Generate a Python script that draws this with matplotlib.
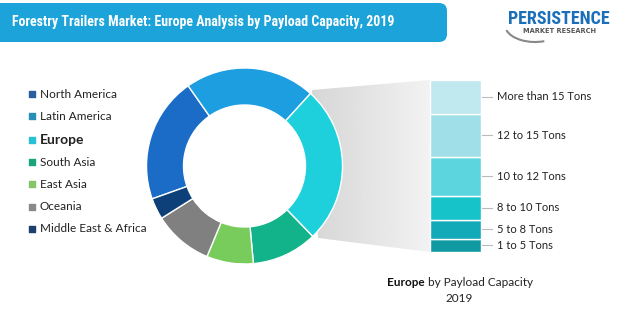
import matplotlib
matplotlib.use("Agg")
import matplotlib.pyplot as plt
import numpy as np
from matplotlib.patches import FancyBboxPatch, Polygon, Arc

# regional shares (legend order)
regions = ['North America', 'Latin America', 'Europe', 'South Asia',
           'East Asia', 'Oceania', 'Middle East & Africa']
region_share = [20.7, 21.5, 26.0, 10.8, 7.7, 9.8, 3.5]
region_colors = ['#1a6cc6', '#1c9ee0', '#1ed0dc', '#12b38a',
                 '#77cc5c', '#808080', '#0d3f78']
legend_colors = ['#2a5e9c', '#2a8fb8', '#28c0d4', '#1aa57c',
                 '#86c46a', '#8a8a8a', '#1d3f6e']

# Europe breakdown by payload capacity (bottom to top)
capacity = ['1 to 5 Tons', '5 to 8 Tons', '8 to 10 Tons',
            '10 to 12 Tons', '12 to 15 Tons', 'More than 15 Tons']
capacity_share = [7.6, 11.0, 14.0, 22.7, 25.0, 19.7]
capacity_colors = ['#0f9aa2', '#12aab8', '#16c3c8', '#5dd5df', '#a0dfe8', '#c0e8ef']

COND = ['Roboto Condensed', 'Barlow Condensed', 'DejaVu Sans']

W, H = 620, 331
fig = plt.figure(figsize=(W / 100, H / 100), dpi=100)
ax = fig.add_axes([0, 0, 1, 1])

# grey connector from the donut to the bar, with a soft gradient
poly = Polygon([(312, H - 90), (430, H - 80), (430, H - 252), (318, H - 238)],
               closed=True, facecolor='none', edgecolor='none')
ax.add_patch(poly)
grad = np.linspace(0.84, 0.95, 256).reshape(1, -1)
im = ax.imshow(grad, cmap='gray', vmin=0, vmax=1, extent=(312, 430, H - 252, H - 80),
               aspect='auto', zorder=1)
im.set_clip_path(poly)

# donut
wedges, _ = ax.pie(region_share, colors=region_colors, startangle=199.6, counterclock=False,
                   radius=98, center=(244.5, H - 166),
                   wedgeprops=dict(width=37, edgecolor='white', linewidth=1.0),
                   frame=True)
for w in wedges:
    w.set_zorder(3)

# stacked bar for Europe
bar_h = 172
bar_bottom = H - 252
for lab, share, col in zip(capacity, capacity_share, capacity_colors):
    h = share / sum(capacity_share) * bar_h
    ax.bar(455.5, h, width=51, bottom=bar_bottom, color=col, edgecolor='white',
           linewidth=1.0, zorder=3)
    yc = bar_bottom + h / 2
    ax.plot([482, 492], [yc, yc], color='#bbbbbb', lw=0.8, zorder=3)
    ax.text(497, yc, lab, ha='left', va='center', fontsize=8, color='#222222',
            family='Lato', zorder=4)
    bar_bottom += h

# legend
legend_y = [94, 116, 140, 162, 184, 207, 229]
for lab, col, y in zip(regions, legend_colors, legend_y):
    ax.scatter([32], [H - y], marker='s', s=20, color=col, zorder=4)
    ax.text(40, H - y, lab, ha='left', va='center', color='#222222',
            fontsize=10 if lab == 'Europe' else 8.5,
            fontweight='bold' if lab == 'Europe' else 'normal',
            family='Lato', zorder=4)

# caption under the bar
ax.text(425, H - 282, 'Europe', ha='right', va='center', fontsize=8.5, fontweight='bold',
        family='Lato', color='#111111')
ax.text(425, H - 282, ' by Payload Capacity', ha='left', va='center', fontsize=8.5,
        family='Lato', color='#222222')
ax.text(459, H - 298, '2019', ha='center', va='center', fontsize=8.5,
        family='Lato', color='#222222')

# title banner
banner = FancyBboxPatch((-20, H - 42), 467, 39, boxstyle='round,pad=0,rounding_size=8',
                        facecolor='#1ca3d9', edgecolor='none', zorder=2)
ax.add_patch(banner)
ax.text(12, H - 22, 'Forestry Trailers Market: Europe Analysis by Payload Capacity, 2019',
        ha='left', va='center', color='white', fontsize=10, fontweight='bold',
        family=COND, zorder=3)

# logo
ax.text(559, H - 19, 'PERSISTENCE', ha='center', va='center', color='#1a6fb8',
        fontsize=13, fontweight='bold', family=COND)
ax.text(560, H - 31, 'MARKET RESEARCH', ha='center', va='center', color='#555555',
        fontsize=4.8, fontweight='bold', family='DejaVu Sans')
ax.add_patch(Arc((535, H - 25), 60, 34, theta1=190, theta2=300, color='#888888', lw=1.5))

ax.set_xlim(0, W)
ax.set_ylim(0, H)
ax.set_aspect('auto')
ax.axis('off')

fig.savefig('out.png', dpi=100, facecolor='white')
